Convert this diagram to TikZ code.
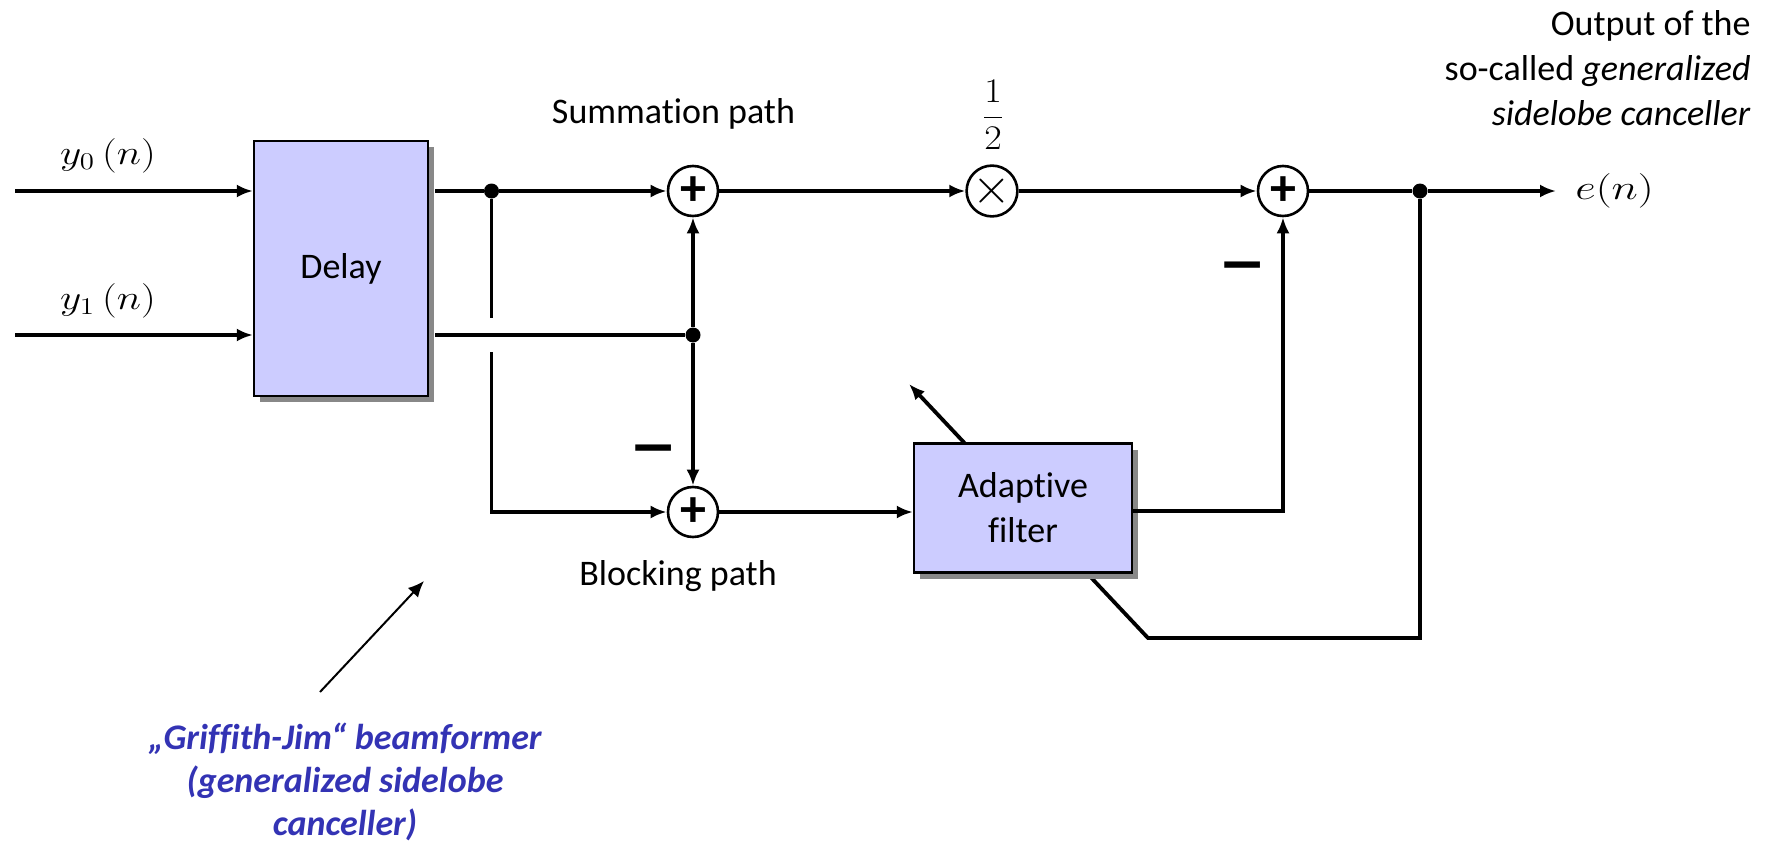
\documentclass[tikz,border=0pt]{standalone}
\usepackage[no-math]{fontspec}
\usepackage{graphicx}
\setmainfont{Carlito}[Ligatures=NoCommon]
\usetikzlibrary{arrows.meta,shadows,backgrounds}
\definecolor{boxfill}{RGB}{204,204,255}
\definecolor{gjblue}{RGB}{51,51,180}
\definecolor{shadowgray}{RGB}{136,136,136}
\newcommand{\widemath}[2]{\scalebox{#1}[1]{$#2$}}
\begin{document}
\begin{tikzpicture}[x=0.5pt,y=-0.5pt,
  wire/.style={line width=1.9pt},
  arr/.style={wire,-{Latex[length=8pt,width=6.5pt]}},
  thinarr/.style={line width=1pt,-{Latex[length=8pt,width=7pt]}},
  blockbox/.style={draw,line width=1.2pt,fill=boxfill,inner sep=0pt,
    drop shadow={shadow xshift=3pt,shadow yshift=-3pt,fill=shadowgray,opacity=1}},
  sumnode/.style={circle,draw,line width=1.3pt,fill=white,minimum size=25pt,inner sep=0pt},
  dotnode/.style={circle,fill=black,inner sep=0pt,minimum size=7.5pt},
  lbl/.style={inner sep=0pt,font=\fontsize{18}{21}\selectfont},
  mathlbl/.style={inner sep=0pt,font=\fontsize{18}{21}\selectfont},
  minuslbl/.style={inner sep=0pt,font=\fontsize{36}{36}\selectfont\bfseries},
  plussign/.style={font=\fontsize{26}{26}\selectfont\bfseries}
]
\useasboundingbox (0,0) rectangle (1768,846);

% blocks
\node[blockbox,minimum width=87pt,minimum height=127.5pt,font=\fontsize{18}{21}\selectfont]
  (delay) at (341,268.5) {Delay};
\node[blockbox,minimum width=109pt,minimum height=64.5pt,align=center,
  font=\fontsize{18}{22.5}\selectfont] (adapt) at (1023,508) {Adaptive\\filter};

% adders and multiplier
\node[sumnode,plussign] (sum1) at (693,191) {+};
\node[sumnode,plussign] (sum2) at (693,512) {+};
\node[sumnode,font=\fontsize{29}{29}\selectfont] (mult) at (992,191) {$\times$};
\node[sumnode,plussign] (sum3) at (1283,191) {+};

% junction dots
\node[dotnode] (j1) at (491.5,191) {};
\node[dotnode] (j2) at (693,335) {};
\node[dotnode] (j3) at (1420,191) {};

% free ends and corners
\coordinate (in0) at (15,191);
\coordinate (in1) at (15,335);
\coordinate (dE) at ([xshift=3pt]delay.east);
\coordinate (gapT) at (491.5,318);
\coordinate (gapB) at (491.5,352);
\coordinate (eout) at (1556,191);
\coordinate (aout) at (1283,511);
\coordinate (fbC) at (1420,638);
\coordinate (fbB) at (1148,638);
\coordinate (adTip) at (909,384);
\coordinate (gjTail) at (320,692);
\coordinate (gjTip) at (424,581);

% labels
\node[mathlbl,anchor=base] (y0lbl) at (108,164) {\widemath{1.2}{y_0\,(n)}};
\node[mathlbl,anchor=base] (y1lbl) at (108,309) {\widemath{1.2}{y_1\,(n)}};
\node[lbl,anchor=base] (sumlbl) at (673.5,123) {Summation path};
\node[lbl,anchor=base] (blklbl) at (678,585) {Blocking path};
\node[mathlbl,font=\fontsize{18.5}{21}\selectfont,anchor=base] (half) at (993,126)
  {\widemath{1.1}{\displaystyle\frac{1}{2}}};
\node[mathlbl,anchor=base west] (elbl) at (1575,199) {\widemath{1.3}{e(n)}};
\node[inner sep=0pt,anchor=north east,align=right,font=\fontsize{18}{22.5}\selectfont]
  (outlbl) at (1751,10) {Output of the\\so-called \textit{generalized}\\\textit{sidelobe canceller}};
\node[inner sep=0pt,anchor=north,align=center,text=gjblue,
  font=\fontsize{18}{21.5}\selectfont\bfseries\itshape]
  (gj) at (345,723) {„Griffith-Jim“ beamformer\\(generalized sidelobe\\canceller)};
\node[minuslbl] (m1) at (654,457) {\scalebox{1.4}[1]{–}};
\node[minuslbl] (m2) at (1243,274) {\scalebox{1.4}[1]{–}};

% inputs
\draw[arr] (in0) -- (in0 -| delay.west);
\draw[arr] (in1) -- (in1 -| delay.west);

% summation and blocking paths
\draw[arr] (dE |- j1) -- (j1) -- (sum1);
\draw[wire] (j1) -- (gapT);
\draw[arr] (gapB) -- (j1 |- sum2) -- (sum2);
\draw[wire] (dE |- j2) -- (j2);
\draw[arr] (j2) -- (sum1);
\draw[arr] (j2) -- (sum2);
\draw[arr] (sum1) -- (mult);
\draw[arr] (mult) -- (sum3);
\draw[arr] (sum3) -- (j3) -- (eout);
\draw[arr] (sum2) -- (sum2 -| adapt.west);
\draw[arr] (adapt.east |- aout) -- (aout) -- (sum3);

% error feedback steering the adaptive filter (passes behind the block)
\begin{pgfonlayer}{background}
  \draw[wire,-{Latex[length=8pt,width=6.5pt]}] (j3) -- (fbC) -- (fbB) -- (adTip);
\end{pgfonlayer}

% annotation arrow
\draw[thinarr] (gjTail) -- (gjTip);
\end{tikzpicture}
\end{document}
